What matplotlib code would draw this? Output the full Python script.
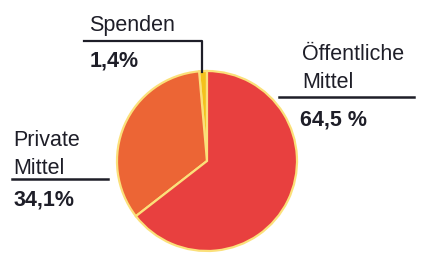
import matplotlib
matplotlib.use("Agg")
import matplotlib.pyplot as plt

# shares in percent, drawn counter-clockwise from 12 o'clock
labels = ["Spenden", "Private\nMittel", "Öffentliche\nMittel"]
values = [1.4, 34.1, 64.5]
value_text = ["1,4%", "34,1%", "64,5 %"]
colors = ["#f4c21c", "#ec6535", "#e8403f"]

plt.rcParams["font.family"] = ["Liberation Sans", "DejaVu Sans"]

H = 255
fig = plt.figure(figsize=(4.22, 2.55), dpi=100)
ax = fig.add_axes([0, 0, 1, 1])


def Y(y):
    # pixel row from top -> data y
    return H - y


ax.pie(values, colors=colors, startangle=90, counterclock=True,
       center=(207, Y(162)), radius=90,
       wedgeprops=dict(edgecolor="#fbe07a", linewidth=1.6))
ax.set_xlim(0, 422)
ax.set_ylim(0, H)
ax.set_aspect("equal")
ax.axis("off")

fs = 15.5
ink = "#1e1e28"
kw = dict(fontsize=fs, va="center", ha="left", color=ink)
# Spenden
ax.text(89, Y(25), "Spenden", **kw)
ax.plot([84, 202, 202], [Y(42), Y(42), Y(73)], color=ink, lw=1.6)
ax.text(90, Y(61), value_text[0], fontweight="bold", **kw)
# Öffentliche Mittel
ax.text(302, Y(54), "Öffentliche", **kw)
ax.text(302, Y(83), "Mittel", **kw)
ax.plot([279, 414], [Y(98), Y(98)], color=ink, lw=1.8)
ax.text(300, Y(120), value_text[2], fontweight="bold", **kw)
# Private Mittel
ax.text(13, Y(140), "Private", **kw)
ax.text(13, Y(168), "Mittel", **kw)
ax.plot([12, 108], [Y(180), Y(180)], color=ink, lw=1.8)
ax.text(14, Y(200), value_text[1], fontweight="bold", **kw)

fig.savefig("out.png", dpi=100)
